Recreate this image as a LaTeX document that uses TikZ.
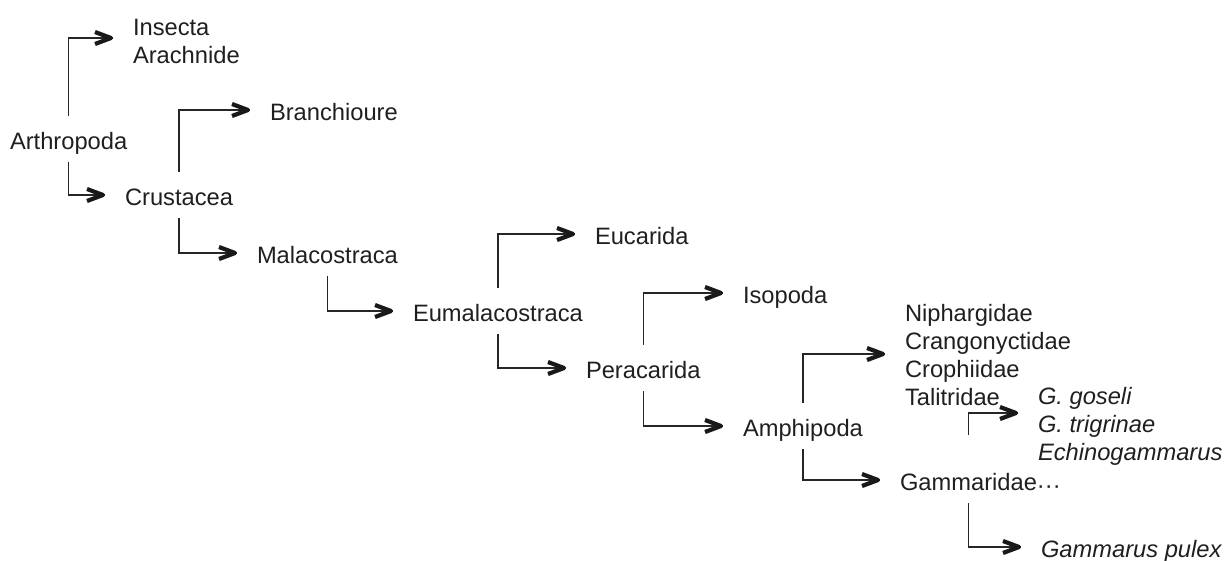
\documentclass[tikz,border=0pt]{standalone}
\usepackage{fontspec}
\setmainfont{Liberation Sans}
\begin{document}
\begin{tikzpicture}[x=1pt,y=-1pt,
  every node/.style={font=\fontsize{23.7}{28}\selectfont, text=black!88, inner sep=0pt, outer xsep=20pt, outer ysep=0pt},
  taxon/.style={text height=33pt, text depth=13pt, anchor=base west},
  group/.style={align=left, anchor=west},
  chev/.pic={\draw[line width=4.2pt, line join=round, line cap=butt, draw=black!90] (-18,-6) -- (-2,0) -- (-18,6);},
  link/.style={draw=black!85, line width=1.6pt}]
\useasboundingbox (0,0) rectangle (1225,560);

\node[taxon] (arth) at (-10,149) {Arthropoda};
\node[taxon] (crus) at (105,205) {Crustacea};
\node[taxon] (bran) at (250,120) {Branchioure};
\node[taxon] (mala) at (237,263) {Malacostraca};
\node[taxon] (euma) at (393,321) {Eumalacostraca};
\node[taxon] (euca) at (575,244) {Eucarida};
\node[taxon] (pera) at (566,378) {Peracarida};
\node[taxon] (iso)  at (723,303) {Isopoda};
\node[taxon] (amph) at (723,436) {Amphipoda};
\node[taxon] (gamm) at (880,490) {Gammaridae\rlap{\raisebox{-3pt}{···}}};
\node[taxon] (pulex) at (1021,557) {\itshape Gammarus pulex};
\node[group] (ins)  at (113,41) {Insecta\\Arachnide};
\node[group] (niph) at (885,355.5) {Niphargidae\\Crangonyctidae\\Crophiidae\\Talitridae};
\node[group] (ital) at (1018,426) {\itshape G. goseli\\\itshape G. trigrinae\\\itshape Echinogammarus};

\draw[link] (arth.north) |- ([yshift=3pt]ins.west) pic{chev};
\draw[link] (arth.south) |- (crus.west) pic{chev};
\draw[link] (crus.north) |- (bran.west) pic{chev};
\draw[link] (crus.south) |- (mala.west) pic{chev};
\draw[link] (mala.south) |- (euma.west) pic{chev};
\draw[link] (euma.north) |- (euca.west) pic{chev};
\draw[link] (euma.south) |- (pera.west) pic{chev};
\draw[link] (pera.north) |- (iso.west) pic{chev};
\draw[link] (pera.south) |- (amph.west) pic{chev};
\draw[link] (amph.north) |- ([yshift=1.5pt]niph.west) pic{chev};
\draw[link] (amph.south) |- (gamm.west) pic{chev};
\draw[link] ([yshift=22pt]gamm.north) |- ([yshift=13pt]ital.west) pic{chev};
\draw[link] (gamm.south) |- (pulex.west) pic{chev};
\end{tikzpicture}
\end{document}
